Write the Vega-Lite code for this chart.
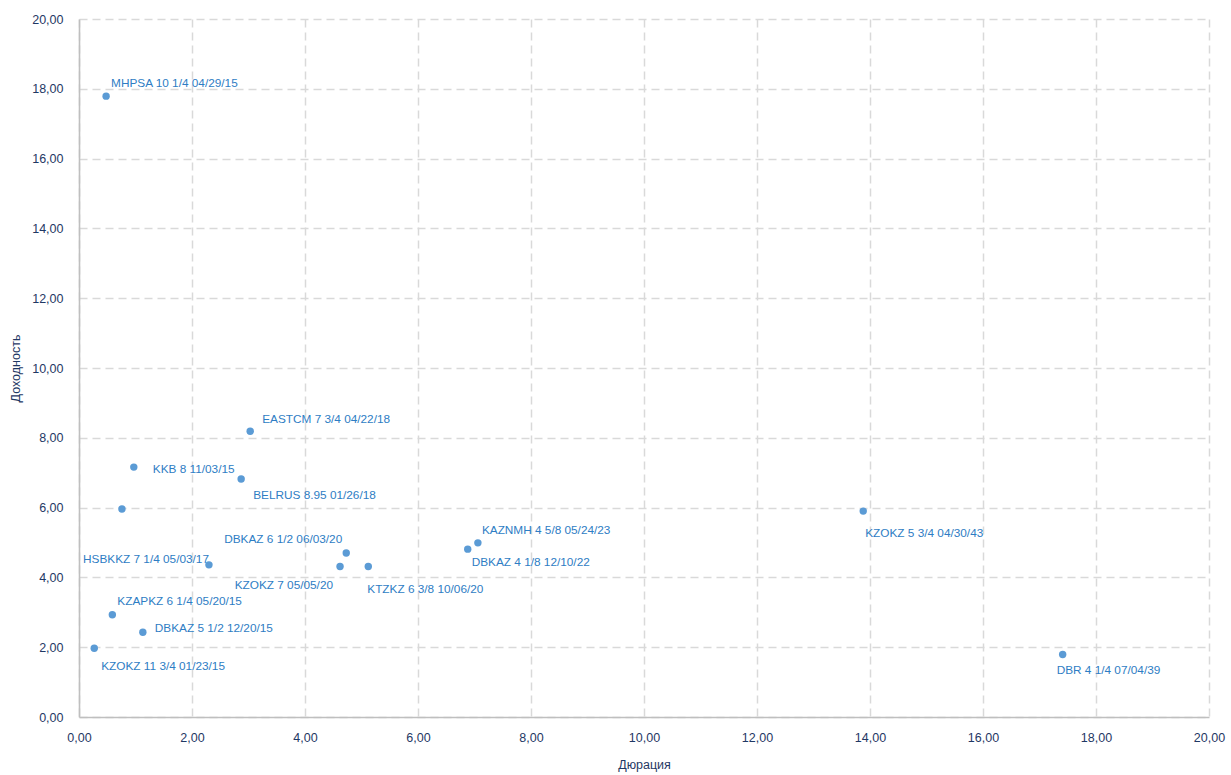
{
  "$schema": "https://vega.github.io/schema/vega-lite/v6.json",
  "width": 1130,
  "height": 698,
  "autosize": {"type": "none"},
  "padding": {"left": 79, "top": 19, "right": 22, "bottom": 58},
  "background": "white",
  "config": {"view": {"stroke": null}, "text": {"font": "Liberation Sans", "fontSize": 11.8, "color": "#2e7dc4", "baseline": "middle"}},
  "data": {"values": [
    {"name": "MHPSA 10 1/4 04/29/15", "dur": 0.48, "yld": 17.79},
    {"name": "EASTCM 7 3/4 04/22/18", "dur": 3.03, "yld": 8.19},
    {"name": "KKB 8 11/03/15", "dur": 0.97, "yld": 7.16},
    {"name": "BELRUS 8.95 01/26/18", "dur": 2.87, "yld": 6.82},
    {"name": "", "dur": 0.76, "yld": 5.96},
    {"name": "DBKAZ 6 1/2 06/03/20", "dur": 4.73, "yld": 4.70},
    {"name": "HSBKKZ 7 1/4 05/03/17", "dur": 2.30, "yld": 4.36},
    {"name": "KZOKZ 7 05/05/20", "dur": 4.62, "yld": 4.31},
    {"name": "KTZKZ 6 3/8 10/06/20", "dur": 5.12, "yld": 4.31},
    {"name": "KAZNMH 4 5/8 05/24/23", "dur": 7.06, "yld": 4.99},
    {"name": "DBKAZ 4 1/8 12/10/22", "dur": 6.88, "yld": 4.81},
    {"name": "KZOKZ 5 3/4 04/30/43", "dur": 13.88, "yld": 5.90},
    {"name": "DBR 4 1/4 07/04/39", "dur": 17.41, "yld": 1.79},
    {"name": "KZAPKZ 6 1/4 05/20/15", "dur": 0.59, "yld": 2.93},
    {"name": "DBKAZ 5 1/2 12/20/15", "dur": 1.13, "yld": 2.43},
    {"name": "KZOKZ 11 3/4 01/23/15", "dur": 0.27, "yld": 1.97}
  ]},
  "encoding": {
    "x": {
      "field": "dur", "type": "quantitative",
      "scale": {"domain": [0, 20], "nice": false, "zero": true},
      "axis": {
        "title": "Дюрация",
        "values": [0, 2, 4, 6, 8, 10, 12, 14, 16, 18, 20],
        "labelExpr": "replace(format(datum.value, '.2f'), '.', ',')",
        "ticks": false, "tickSize": 0, "labelPadding": 14,
        "domainColor": "#bfbfbf", "domainWidth": 1.6,
        "gridColor": "#d9d9d9", "gridWidth": 1.5, "gridDash": [8, 5],
        "labelFont": "Liberation Sans", "labelFontSize": 12.5, "labelColor": "#1f3864",
        "titleFont": "Liberation Sans", "titleFontSize": 12.5, "titleColor": "#1f3864", "titleFontWeight": "normal",
        "titleBaseline": "middle", "titleY": 47,
        "labelFlush": false
      }
    },
    "y": {
      "field": "yld", "type": "quantitative",
      "scale": {"domain": [0, 20], "nice": false, "zero": true},
      "axis": {
        "title": "Доходность",
        "values": [0, 2, 4, 6, 8, 10, 12, 14, 16, 18, 20],
        "labelExpr": "replace(format(datum.value, '.2f'), '.', ',')",
        "ticks": false, "tickSize": 0, "labelPadding": 16,
        "domainColor": "#bfbfbf", "domainWidth": 1.6,
        "gridColor": "#d9d9d9", "gridWidth": 1.5, "gridDash": [8, 5],
        "labelFont": "Liberation Sans", "labelFontSize": 12.5, "labelColor": "#1f3864",
        "titleFont": "Liberation Sans", "titleFontSize": 12.5, "titleColor": "#1f3864", "titleFontWeight": "normal",
        "titleBaseline": "middle", "titleX": -64,
        "labelFlush": false
      }
    }
  },
  "layer": [
    {"mark": {"type": "circle", "size": 55, "opacity": 1, "color": "#5b9bd5"}},
    {"transform": [{"filter": "datum.name == 'MHPSA 10 1/4 04/29/15'"}], "mark": {"type": "text", "align": "left", "dx": 5, "dy": -13}, "encoding": {"text": {"field": "name"}}},
    {"transform": [{"filter": "datum.name == 'EASTCM 7 3/4 04/22/18'"}], "mark": {"type": "text", "align": "left", "dx": 12, "dy": -12}, "encoding": {"text": {"field": "name"}}},
    {"transform": [{"filter": "datum.name == 'KKB 8 11/03/15'"}], "mark": {"type": "text", "align": "left", "dx": 19, "dy": 2}, "encoding": {"text": {"field": "name"}}},
    {"transform": [{"filter": "datum.name == 'BELRUS 8.95 01/26/18'"}], "mark": {"type": "text", "align": "left", "dx": 12, "dy": 16}, "encoding": {"text": {"field": "name"}}},
    {"transform": [{"filter": "datum.name == 'DBKAZ 6 1/2 06/03/20'"}], "mark": {"type": "text", "align": "right", "dx": -4, "dy": -14}, "encoding": {"text": {"field": "name"}}},
    {"transform": [{"filter": "datum.name == 'HSBKKZ 7 1/4 05/03/17'"}], "mark": {"type": "text", "align": "right", "dx": 0, "dy": -6}, "encoding": {"text": {"field": "name"}}},
    {"transform": [{"filter": "datum.name == 'KZOKZ 7 05/05/20'"}], "mark": {"type": "text", "align": "right", "dx": -7, "dy": 18}, "encoding": {"text": {"field": "name"}}},
    {"transform": [{"filter": "datum.name == 'KTZKZ 6 3/8 10/06/20'"}], "mark": {"type": "text", "align": "left", "dx": -1, "dy": 22}, "encoding": {"text": {"field": "name"}}},
    {"transform": [{"filter": "datum.name == 'KAZNMH 4 5/8 05/24/23'"}], "mark": {"type": "text", "align": "left", "dx": 4, "dy": -13}, "encoding": {"text": {"field": "name"}}},
    {"transform": [{"filter": "datum.name == 'DBKAZ 4 1/8 12/10/22'"}], "mark": {"type": "text", "align": "left", "dx": 4, "dy": 13}, "encoding": {"text": {"field": "name"}}},
    {"transform": [{"filter": "datum.name == 'KZOKZ 5 3/4 04/30/43'"}], "mark": {"type": "text", "align": "left", "dx": 2, "dy": 22}, "encoding": {"text": {"field": "name"}}},
    {"transform": [{"filter": "datum.name == 'DBR 4 1/4 07/04/39'"}], "mark": {"type": "text", "align": "left", "dx": -6, "dy": 15}, "encoding": {"text": {"field": "name"}}},
    {"transform": [{"filter": "datum.name == 'KZAPKZ 6 1/4 05/20/15'"}], "mark": {"type": "text", "align": "left", "dx": 5, "dy": -14}, "encoding": {"text": {"field": "name"}}},
    {"transform": [{"filter": "datum.name == 'DBKAZ 5 1/2 12/20/15'"}], "mark": {"type": "text", "align": "left", "dx": 12, "dy": -4}, "encoding": {"text": {"field": "name"}}},
    {"transform": [{"filter": "datum.name == 'KZOKZ 11 3/4 01/23/15'"}], "mark": {"type": "text", "align": "left", "dx": 7, "dy": 18}, "encoding": {"text": {"field": "name"}}}
  ]
}
